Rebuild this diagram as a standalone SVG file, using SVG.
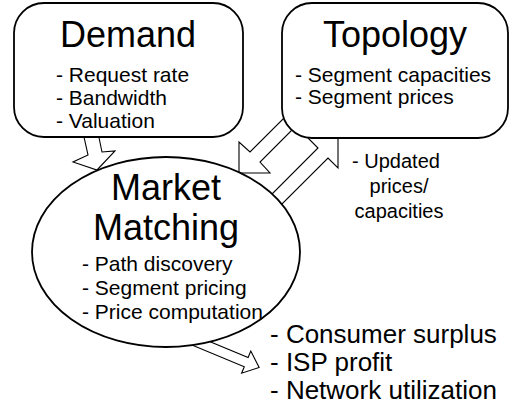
<svg xmlns="http://www.w3.org/2000/svg" width="510" height="413" viewBox="0 0 510 413">
<style>
.box{fill:#fff;stroke:#000;stroke-width:1.8}
.arr{fill:#fff;stroke:#000;stroke-width:1.1;stroke-linejoin:miter}
text{font-family:"Liberation Sans",Arial,sans-serif;fill:#000}
.title{font-size:36px;text-anchor:middle}
.item{font-size:21px}
.res{font-size:26px}
.upd{font-size:20px;text-anchor:middle}
</style>
<rect width="510" height="413" fill="#fff"/>
<g id="connectors">
<polygon class="arr" points="82,128 97,128 102,152 115,151 97,170 73,162 88,155"/>
<polygon class="arr" points="239,173 239,142 250,152 295,107 305,117 260,162 270,173"/>
<polygon class="arr" points="338,137 307,137 318,148 268,198 278,208 328,158 338,168"/>
<polygon class="arr" transform="translate(200,343) rotate(22.5)" points="-10,-5 50,-5 50,-12 64,0 50,12 50,5 -10,5"/>
</g>
<g id="demand">
<rect class="box" x="14" y="3" width="229" height="134" rx="30"/>
<text class="title" x="128" y="47">Demand</text>
<text class="item" x="56" y="82">- Request rate</text>
<text class="item" x="56" y="105">- Bandwidth</text>
<text class="item" x="56" y="128">- Valuation</text>
</g>
<g id="topology">
<rect class="box" x="282" y="3" width="226" height="135" rx="30"/>
<text class="title" x="395" y="47">Topology</text>
<text class="item" x="295" y="82">- Segment capacities</text>
<text class="item" x="295" y="104">- Segment prices</text>
</g>
<g id="market">
<ellipse class="box" cx="166" cy="252" rx="134" ry="95"/>
<text class="title" x="166" y="200">Market</text>
<text class="title" x="166" y="240">Matching</text>
<text class="item" x="82" y="271">- Path discovery</text>
<text class="item" x="82" y="295">- Segment pricing</text>
<text class="item" x="82" y="319">- Price computation</text>
</g>
<g id="updated-label">
<text class="upd" x="396" y="168">- Updated</text>
<text class="upd" x="399" y="193">prices/</text>
<text class="upd" x="399" y="218">capacities</text>
</g>
<g id="results">
<text class="res" x="270" y="343">- Consumer surplus</text>
<text class="res" x="270" y="371">- ISP profit</text>
<text class="res" x="270" y="399">- Network utilization</text>
</g>
</svg>
